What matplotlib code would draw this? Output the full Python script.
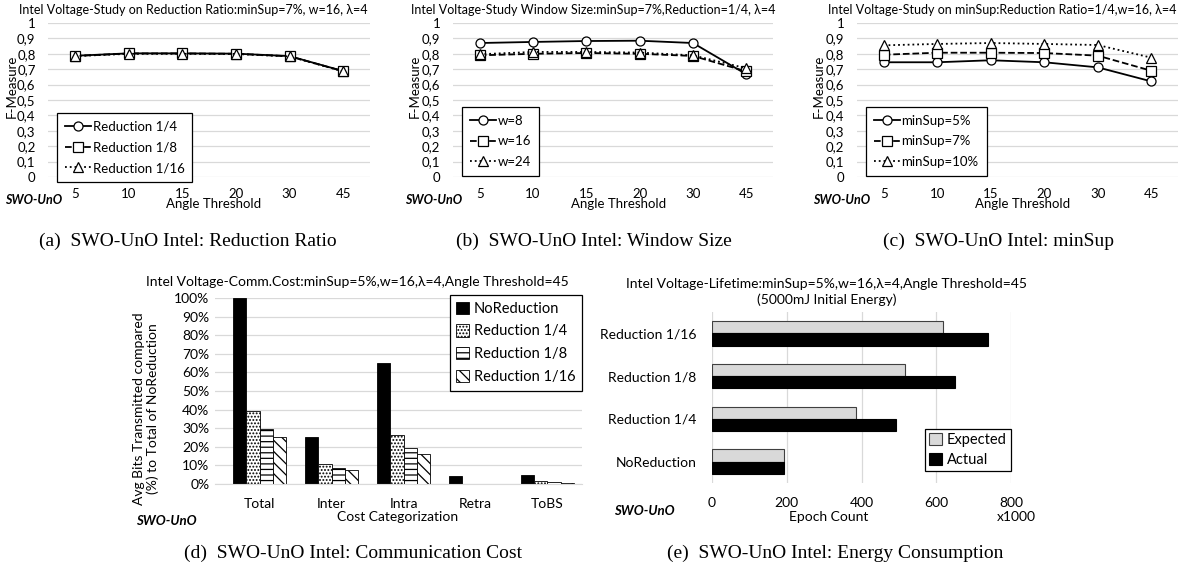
import numpy as np
import matplotlib
matplotlib.use('Agg')
import matplotlib.pyplot as plt

plt.rcParams['font.family'] = ['Lato', 'DejaVu Sans']
plt.rcParams['hatch.linewidth'] = 0.9

# --- data ---
angles = ['5', '10', '15', '20', '30', '45']

ratio_labels = ['Reduction 1/4', 'Reduction 1/8', 'Reduction 1/16']
ratio_r4 = [0.787, 0.803, 0.803, 0.801, 0.785, 0.688]
ratio_r8 = [0.786, 0.802, 0.802, 0.800, 0.784, 0.687]
ratio_r16 = [0.785, 0.800, 0.800, 0.799, 0.783, 0.686]

window_labels = ['w=8', 'w=16', 'w=24']
window_w8 = [0.870, 0.877, 0.883, 0.885, 0.870, 0.667]
window_w16 = [0.790, 0.800, 0.805, 0.800, 0.786, 0.686]
window_w24 = [0.797, 0.812, 0.812, 0.808, 0.790, 0.706]

minsup_labels = ['minSup=5%', 'minSup=7%', 'minSup=10%']
minsup_5 = [0.745, 0.745, 0.758, 0.745, 0.712, 0.621]
minsup_7 = [0.794, 0.807, 0.807, 0.805, 0.788, 0.690]
minsup_10 = [0.855, 0.864, 0.870, 0.864, 0.857, 0.775]

cost_cats = ['Total', 'Inter', 'Intra', 'Retra', 'ToBS']
cost_labels = ['NoReduction', 'Reduction 1/4', 'Reduction 1/8', 'Reduction 1/16']
cost_noreduction = [1.00, 0.254, 0.650, 0.041, 0.047]
cost_r4 = [0.390, 0.108, 0.262, 0.0, 0.014]
cost_r8 = [0.297, 0.084, 0.195, 0.0, 0.009]
cost_r16 = [0.253, 0.073, 0.163, 0.0, 0.005]

life_cats = ['NoReduction', 'Reduction 1/4', 'Reduction 1/8', 'Reduction 1/16']
life_expected = [192, 386, 517, 619]
life_actual = [193, 491, 650, 739]

W, H = 1195, 572
fig = plt.figure(figsize=(W / 100, H / 100), dpi=100)
GRID = '#d9d9d9'


def px_axes(l, t, r, b):
    return fig.add_axes([l / W, 1 - b / H, (r - l) / W, (b - t) / H])


def ftext(x, y, s, **kw):
    kw.setdefault('ha', 'center')
    kw.setdefault('va', 'center')
    fig.text(x / W, 1 - y / H, s, **kw)


def clean(ax):
    for s in ax.spines.values():
        s.set_visible(False)
    ax.set_axisbelow(True)


def line_panel(box, series, labels, title, title_x, leg_xy, ylab_x, swo_x, xlab_x):
    ax = px_axes(*box)
    styles = [('-', 'o'), ('--', 's'), (':', '^')]
    x = np.arange(len(angles))
    for vals, lab, (ls, mk) in zip(series, labels, styles):
        ax.plot(x, vals, color='black', linestyle=ls, linewidth=1.3, marker=mk,
                markersize=6.5, markerfacecolor='white', markeredgecolor='black',
                markeredgewidth=0.9, label=lab)
    ax.set_xlim(-0.5, 5.5)
    ax.set_ylim(0, 1)
    yt = np.round(np.arange(0, 1.01, 0.1), 1)
    ax.set_yticks(yt)
    ax.set_yticklabels(['0' if v == 0 else '1' if v == 1 else f'{v:.1f}'.replace('.', ',') for v in yt])
    ax.set_xticks(x)
    ax.set_xticklabels(angles)
    ax.grid(axis='y', color=GRID, linewidth=0.9)
    clean(ax)
    ax.tick_params(axis='y', length=0, labelsize=9.5, pad=9)
    ax.tick_params(axis='x', length=0, labelsize=9.5, pad=8)
    leg = ax.legend(loc='upper left', bbox_to_anchor=(leg_xy[0] / W, 1 - leg_xy[1] / H),
                    bbox_transform=fig.transFigure, borderaxespad=0, fontsize=9.5,
                    frameon=True, fancybox=False, edgecolor='black', framealpha=1,
                    handlelength=2.0, labelspacing=0.65, numpoints=1,
                    borderpad=0.6, handletextpad=0.1)
    leg.get_frame().set_linewidth(0.9)
    ftext(title_x, 10, title, fontsize=9)
    ftext(ylab_x, 86, 'F-Measure', fontsize=9.5, rotation=90)
    ftext(swo_x, 200, 'SWO-UnO', fontsize=9, fontweight='bold', style='italic')
    ftext(xlab_x, 204, 'Angle Threshold', fontsize=9.5)
    return ax


line_panel((48, 23, 370, 177), [ratio_r4, ratio_r8, ratio_r16], ratio_labels,
           'Intel Voltage-Study on Reduction Ratio:minSup=7%, w=16, λ=4', 193,
           (57, 113), 12, 34, 214)
line_panel((453, 23, 773, 177), [window_w8, window_w16, window_w24], window_labels,
           'Intel Voltage-Study Window Size:minSup=7%,Reduction=1/4, λ=4', 593,
           (462, 107), 415, 434, 619)
line_panel((857, 23, 1178, 177), [minsup_5, minsup_7, minsup_10], minsup_labels,
           'Intel Voltage-Study on minSup:Reduction Ratio=1/4,w=16, λ=4', 1002,
           (866, 107), 819, 842, 1023)

# --- (d) communication cost ---
ax = px_axes(215, 298, 582, 484)
x = np.arange(len(cost_cats))
bw = 0.185
hatches = [None, '.....', '---', '\\\\\\']
fills = ['black', 'white', 'white', 'white']
for i, (vals, lab) in enumerate(zip([cost_noreduction, cost_r4, cost_r8, cost_r16], cost_labels)):
    ax.bar(x + (i - 1.5) * bw, vals, bw, color=fills[i], edgecolor='black',
           hatch=hatches[i], linewidth=0.6, label=lab)
ax.set_xlim(-0.62, 4.48)
ax.set_ylim(0, 1)
ax.set_yticks(np.round(np.arange(0, 1.01, 0.1), 1))
ax.set_yticklabels([f'{int(round(v * 100))}%' for v in np.arange(0, 1.01, 0.1)])
ax.set_xticks(x)
ax.set_xticklabels(cost_cats)
ax.grid(axis='y', color=GRID, linewidth=0.9)
clean(ax)
ax.spines['bottom'].set_visible(True)
ax.spines['bottom'].set_color(GRID)
ax.tick_params(axis='y', length=0, labelsize=10, pad=4)
ax.tick_params(axis='x', length=0, labelsize=10, pad=10)
leg = ax.legend(loc='upper right', bbox_to_anchor=(582 / W, 1 - 295 / H),
                bbox_transform=fig.transFigure, borderaxespad=0, fontsize=10.5,
                frameon=True, fancybox=False, edgecolor='black', framealpha=1,
                handlelength=0.9, handleheight=0.9, labelspacing=0.6,
                handletextpad=0.3, borderpad=0.45)
leg.get_frame().set_linewidth(0.9)
ftext(357, 282, 'Intel Voltage-Comm.Cost:minSup=5%,w=16,λ=4,Angle Threshold=45', fontsize=10)
ftext(146, 409, 'Avg Bits Transmitted compared\n(%) to Total of NoReduction',
      fontsize=10, rotation=90, linespacing=1.1)
ftext(398, 517, 'Cost Categorization', fontsize=10)
ftext(166, 521, 'SWO-UnO', fontsize=9.5, fontweight='bold', style='italic')

# --- (e) lifetime ---
ax = px_axes(712, 312, 1011, 483)
y = np.arange(len(life_cats))
bh = 0.285
ax.barh(y + bh / 2, life_expected, bh, color='#d9d9d9', edgecolor='#404040',
        linewidth=0.8, label='Expected')
ax.barh(y - bh / 2, life_actual, bh, color='black', edgecolor='black',
        linewidth=0.8, label='Actual')
ax.set_xlim(0, 800)
ax.set_ylim(-0.5, 3.5)
ax.set_xticks([0, 200, 400, 600, 800])
ax.set_yticks(y)
ax.set_yticklabels(life_cats)
ax.grid(axis='x', color=GRID, linewidth=0.9)
clean(ax)
ax.tick_params(axis='y', length=0, labelsize=10, pad=11)
ax.tick_params(axis='x', length=0, labelsize=10, pad=10)
leg = ax.legend(loc='lower right', bbox_to_anchor=(1011 / W, 1 - 471 / H),
                bbox_transform=fig.transFigure, borderaxespad=0, fontsize=10.5,
                frameon=True, fancybox=False, edgecolor='black', framealpha=1,
                handlelength=0.9, handleheight=0.9, labelspacing=0.35,
                handletextpad=0.3, borderpad=0.3)
leg.get_frame().set_linewidth(0.9)
ftext(827, 292, 'Intel Voltage-Lifetime:minSup=5%,w=16,λ=4,Angle Threshold=45\n(5000mJ Initial Energy)',
      fontsize=10, linespacing=1.4)
ftext(829, 517, 'Epoch Count', fontsize=10)
ftext(1016, 517, 'x1000', fontsize=10)
ftext(644, 511, 'SWO-UnO', fontsize=9.5, fontweight='bold', style='italic')

# --- captions ---
cap = dict(fontsize=14, family=['Liberation Serif', 'DejaVu Serif'])
ftext(188, 241, '(a)  SWO-UnO Intel: Reduction Ratio', **cap)
ftext(594, 241, '(b)  SWO-UnO Intel: Window Size', **cap)
ftext(999, 241, '(c)  SWO-UnO Intel: minSup', **cap)
ftext(353, 553, '(d)  SWO-UnO Intel: Communication Cost', **cap)
ftext(835, 553, '(e)  SWO-UnO Intel: Energy Consumption', **cap)

fig.savefig('out.png', dpi=100)
